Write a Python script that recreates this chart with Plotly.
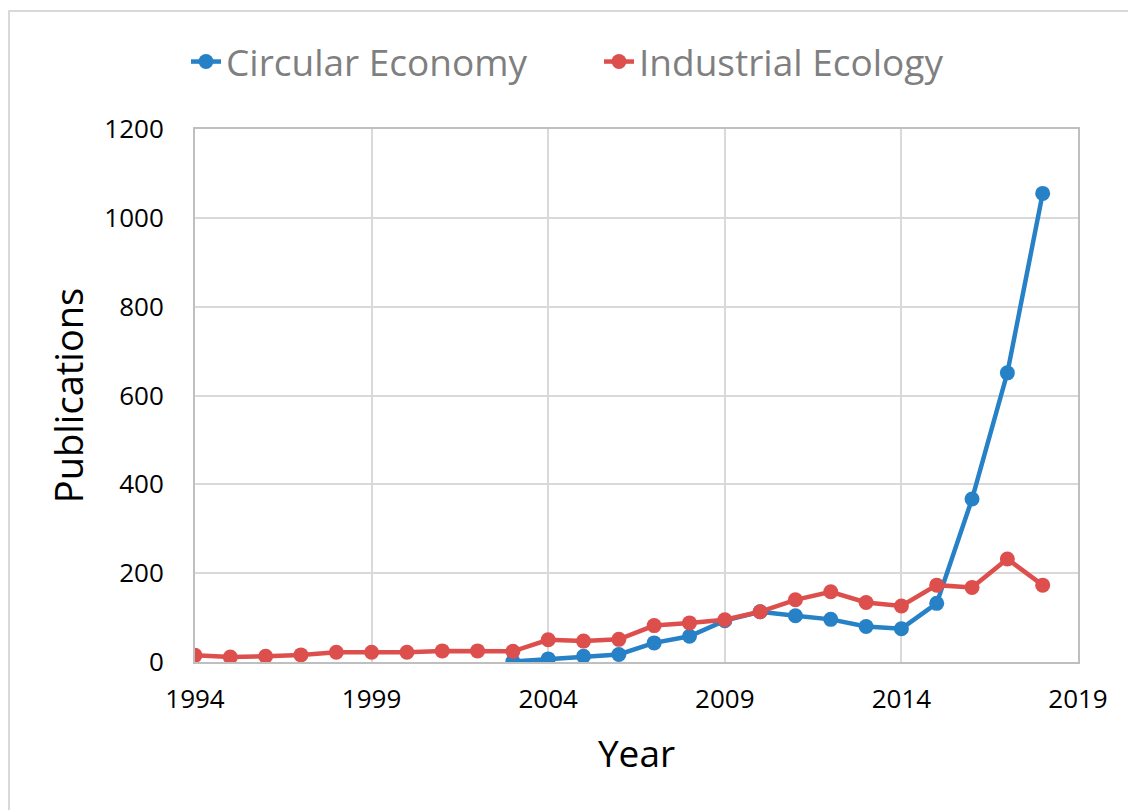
import plotly.graph_objects as go

years_ie = list(range(1994, 2019))
ie_values = [15, 11, 13, 16, 22, 22, 22, 25, 25, 24, 50, 47, 51, 82, 88, 95, 113, 140, 158, 134, 126, 173, 168, 232, 173]
years_ce = list(range(2003, 2019))
ce_values = [1, 7, 13, 17, 43, 58, 93, 113, 104, 96, 80, 75, 132, 367, 651, 1055]

blue = "#2681c6"
red = "#dd4f4d"

fig = go.Figure()
fig.add_trace(go.Scatter(x=years_ce, y=ce_values, name="Circular Economy", mode="lines+markers",
                         line=dict(color=blue, width=4.5), marker=dict(color=blue, size=15)))
fig.add_trace(go.Scatter(x=years_ie, y=ie_values, name="Industrial Ecology", mode="lines+markers",
                         line=dict(color=red, width=4.5), marker=dict(color=red, size=15)))

L, R, T, B = 195, 1078, 129, 662
W, H = 1128, 810
pw, ph = R - L, B - T

font = "Open Sans"
fig.update_layout(
    width=W, height=H,
    margin=dict(l=L, r=W - R, t=T, b=H - B, autoexpand=False),
    paper_bgcolor="white", plot_bgcolor="white",
    font=dict(family=font, color="black"),
    showlegend=True,
    legend=dict(orientation="h", x=(186 - L) / pw, xanchor="left", y=1 + (T - 62) / ph, yanchor="middle",
                font=dict(size=37, color="#7f7f7f", family=font), entrywidth=368, entrywidthmode="pixels"),
    xaxis=dict(range=[1994, 2019], dtick=5, tick0=1994, showgrid=True, gridcolor="#d9d9d9", gridwidth=2,
               showline=True, linecolor="#bfbfbf", linewidth=2, mirror=True, zeroline=False,
               ticks="", tickfont=dict(size=26), ticklabelstandoff=13,
               title=dict(text="Year", font=dict(size=37), standoff=26)),
    yaxis=dict(range=[0, 1200], dtick=200, showgrid=True, gridcolor="#d9d9d9", gridwidth=2,
               showline=True, linecolor="#bfbfbf", linewidth=2, mirror=True, zeroline=False,
               ticks="", tickfont=dict(size=26), ticklabelstandoff=24,
               title=dict(text="Publications", font=dict(size=38), standoff=9)),
    shapes=[dict(type="rect", xref="paper", yref="paper",
                 x0=(9 - L) / pw, x1=(1135 - L) / pw,
                 y0=(B - 815) / ph, y1=1 + (T - 11) / ph,
                 line=dict(color="#d9d9d9", width=2), fillcolor="rgba(0,0,0,0)", layer="below")],
)

fig.write_html("out.html")
